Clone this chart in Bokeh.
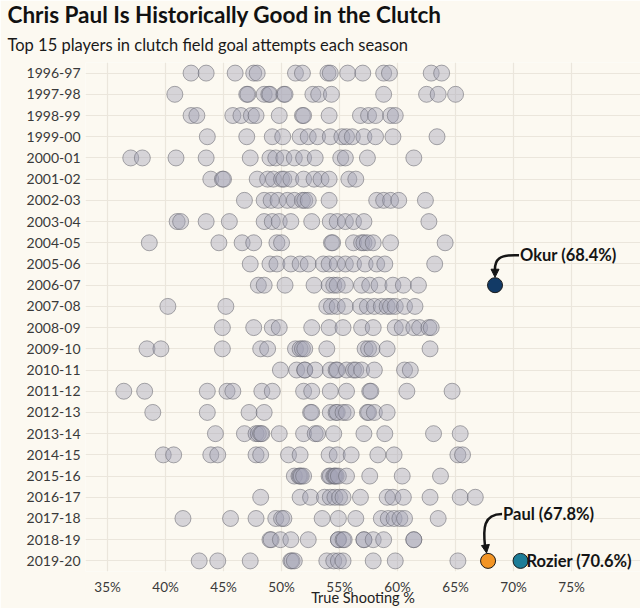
from bokeh.plotting import figure
from bokeh.models import Range1d, Title, Arrow, NormalHead, PrintfTickFormatter, Label
from bokeh.embed import file_html
from bokeh.resources import INLINE

# ---------------- data ----------------
seasons = ["1996-97", "1997-98", "1998-99", "1999-00", "2000-01", "2001-02",
           "2002-03", "2003-04", "2004-05", "2005-06", "2006-07", "2007-08",
           "2008-09", "2009-10", "2010-11", "2011-12", "2012-13", "2013-14",
           "2014-15", "2015-16", "2016-17", "2017-18", "2018-19", "2019-20"]

ts_1996_97 = [42.2, 43.5, 46.0, 47.6, 47.9, 51.2, 51.8, 54.0, 54.2, 55.7, 57.0, 58.8, 59.3, 62.9, 63.8]
ts_1997_98 = [40.8, 47.0, 47.1, 48.5, 48.9, 49.0, 50.2, 50.3, 52.7, 53.2, 54.3, 58.8, 62.5, 63.5, 65.0]
ts_1998_99 = [42.2, 42.7, 45.8, 46.5, 47.4, 47.8, 49.8, 51.8, 51.9, 54.1, 56.8, 57.5, 58.1, 59.4, 59.8]
ts_1999_00 = [43.6, 47.0, 49.2, 50.1, 51.6, 52.3, 53.1, 54.2, 55.2, 55.6, 56.1, 57.1, 58.1, 59.6, 63.4]
ts_2000_01 = [37.0, 38.0, 40.9, 43.5, 47.3, 49.0, 49.5, 50.2, 51.1, 51.9, 52.9, 55.1, 55.5, 57.4, 61.4]
ts_2001_02 = [43.9, 44.9, 45.0, 47.9, 48.8, 49.3, 50.0, 50.2, 50.8, 51.9, 52.8, 53.4, 54.1, 55.8, 56.4]
ts_2002_03 = [46.8, 48.5, 49.1, 49.7, 50.5, 51.1, 51.8, 52.0, 52.3, 54.1, 58.2, 58.8, 59.4, 60.1, 62.4]
ts_2003_04 = [41.0, 41.3, 43.5, 45.5, 48.5, 49.2, 49.8, 50.8, 52.6, 54.2, 54.8, 55.5, 56.2, 57.1, 62.7]
ts_2004_05 = [38.6, 44.6, 46.6, 47.6, 49.6, 50.0, 54.3, 54.4, 56.2, 56.9, 57.1, 57.4, 57.9, 59.4, 64.1]
ts_2005_06 = [47.3, 49.0, 49.6, 50.8, 51.6, 52.3, 53.6, 54.1, 54.8, 55.5, 56.2, 57.2, 58.2, 58.9, 63.2]
ts_2006_07 = [48.0, 48.5, 50.3, 52.8, 54.1, 54.5, 54.8, 55.5, 56.9, 57.6, 58.4, 59.6, 60.5, 61.8]
ts_2007_08 = [40.2, 45.2, 53.9, 54.3, 54.8, 55.5, 56.8, 57.4, 58.0, 58.6, 59.1, 59.4, 59.8, 60.6, 61.5]
ts_2008_09 = [44.9, 47.6, 49.2, 49.8, 52.6, 54.1, 55.3, 56.9, 57.9, 59.8, 60.4, 61.4, 61.9, 62.7, 62.9]
ts_2009_10 = [38.4, 39.6, 44.9, 48.2, 48.8, 51.2, 51.6, 51.8, 52.0, 53.9, 57.2, 57.5, 57.8, 59.1, 62.8]
ts_2010_11 = [49.9, 51.3, 52.0, 52.0, 52.9, 54.2, 54.7, 54.8, 55.6, 56.2, 56.4, 56.9, 58.0, 60.6, 61.1]
ts_2011_12 = [36.4, 38.2, 43.6, 45.3, 45.8, 48.3, 49.2, 51.9, 52.6, 54.2, 55.6, 57.6, 57.7, 60.8, 64.7]
ts_2012_13 = [38.9, 43.6, 47.2, 48.5, 52.5, 52.6, 54.2, 54.7, 54.8, 55.3, 55.6, 57.4, 57.5, 58.0, 59.1]
ts_2013_14 = [44.3, 46.8, 47.8, 48.0, 48.2, 48.3, 49.8, 51.9, 52.9, 53.1, 54.5, 57.1, 58.9, 63.1, 65.4]
ts_2014_15 = [39.8, 40.7, 43.9, 44.5, 47.8, 48.2, 50.6, 51.6, 54.1, 54.8, 56.0, 58.3, 59.7, 65.2, 65.6]
ts_2015_16 = [51.1, 51.5, 51.6, 51.7, 51.9, 54.1, 54.2, 54.5, 54.6, 54.7, 54.9, 55.6, 57.6, 60.4, 63.7]
ts_2016_17 = [48.2, 51.6, 52.5, 53.7, 54.2, 54.6, 55.0, 55.3, 56.8, 59.1, 59.6, 60.5, 62.8, 65.4, 66.7]
ts_2017_18 = [41.5, 45.6, 47.8, 49.5, 50.0, 50.2, 53.5, 54.9, 56.4, 58.6, 59.2, 59.7, 60.2, 60.6, 63.5]
ts_2018_19 = [49.0, 49.1, 49.9, 50.8, 52.3, 54.9, 54.9, 55.3, 55.4, 57.1, 57.1, 57.9, 58.8, 61.4, 61.4]
ts_2019_20 = [42.9, 44.5, 47.3, 50.8, 50.9, 51.1, 53.9, 54.5, 54.9, 55.3, 57.9, 59.8, 65.2]

highlight_names = ["Okur", "Paul", "Rozier"]
highlight_seasons = ["2006-07", "2019-20", "2019-20"]
highlight_values = [68.4, 67.8, 70.6]
highlight_colors = ["#123a66", "#f29424", "#1d7d98"]

x_ticks = [35, 40, 45, 50, 55, 60, 65, 70, 75]

title_text = "Chris Paul Is Historically Good in the Clutch"
subtitle_text = "Top 15 players in clutch field goal attempts each season"
x_label = "True Shooting %"

# ---------------- build ----------------
all_rows = [ts_1996_97, ts_1997_98, ts_1998_99, ts_1999_00, ts_2000_01, ts_2001_02,
            ts_2002_03, ts_2003_04, ts_2004_05, ts_2005_06, ts_2006_07, ts_2007_08,
            ts_2008_09, ts_2009_10, ts_2010_11, ts_2011_12, ts_2012_13, ts_2013_14,
            ts_2014_15, ts_2015_16, ts_2016_17, ts_2017_18, ts_2018_19, ts_2019_20]

n = len(seasons)
ypos = {s: n - 1 - i for i, s in enumerate(seasons)}

xs, ys = [], []
for s, row in zip(seasons, all_rows):
    for v in row:
        xs.append(v)
        ys.append(ypos[s])

BG = "#fcf9f1"
FONT = "Lato"
X0, X1 = 33.1, 80.94      # frame spans to the right canvas edge
GRID_END = 77.9           # horizontal grid lines stop here

p = figure(width=640, height=608, output_backend="svg", toolbar_location=None,
           x_range=Range1d(X0, X1), y_range=Range1d(-0.5, n - 0.5),
           min_border_left=85, min_border_right=0, min_border_top=62, min_border_bottom=36,
           title=None)
p.background_fill_color = BG
p.border_fill_color = BG
p.outline_line_color = None

sub = Title(text=subtitle_text, text_font=FONT, text_font_size="16.5px",
            text_font_style="normal", text_color="#1a1a1a", align="left", offset=-78,
            standoff=16)
ttl = Title(text=title_text, text_font=FONT, text_font_size="22.5px",
            text_font_style="bold", text_color="#111111", align="left", offset=-78,
            standoff=-7)
p.add_layout(sub, "above")
p.add_layout(ttl, "above")

# grid
p.xgrid.ticker = x_ticks
p.ygrid.ticker = list(range(n))
p.ygrid.bounds = (X0, GRID_END)
p.xgrid.grid_line_color = "#ebe6dc"
p.ygrid.grid_line_color = "#ebe6dc"
p.xgrid.grid_line_width = 1.2
p.ygrid.grid_line_width = 1.2

# axes
p.xaxis.ticker = x_ticks
p.xaxis.formatter = PrintfTickFormatter(format="%d%%")
p.yaxis.ticker = list(range(n))
p.yaxis.major_label_overrides = {ypos[s]: s for s in seasons}
for ax in (p.xaxis[0], p.yaxis[0]):
    ax.axis_line_color = None
    ax.major_tick_line_color = None
    ax.minor_tick_line_color = None
    ax.major_tick_out = 0
    ax.minor_tick_out = 0
    ax.major_tick_in = 0
    ax.minor_tick_in = 0
    ax.major_label_text_font = FONT
    ax.major_label_text_color = "#3a3a3a"
p.yaxis.major_label_text_font_size = "14px"
p.xaxis.major_label_text_font_size = "13.5px"
p.yaxis.major_label_standoff = 5
p.xaxis.major_label_standoff = 7
p.xaxis.axis_label = x_label
p.xaxis.axis_label_text_font = FONT
p.xaxis.axis_label_text_font_size = "14.5px"
p.xaxis.axis_label_text_font_style = "normal"
p.xaxis.axis_label_text_color = "#222222"
p.xaxis.axis_label_standoff = -9

# grey dots
p.scatter(xs, ys, size=16, fill_color="#a2a2b6", fill_alpha=0.42,
          line_color="#66666f", line_alpha=0.55, line_width=1)

# highlighted dots
hx = highlight_values
hy = [ypos[s] for s in highlight_seasons]
p.scatter(hx, hy, size=15, fill_color=highlight_colors, line_color="#1a1a1a", line_width=1)

# annotations
PX = 1 / 11.6   # data units per pixel (x)
PY = 1 / 21.25  # data units per pixel (y)

y_ok, y_pa, y_ro = hy
x_ok, x_pa, x_ro = hx
label_offsets = [(25, 30), (15, 47), (6, 0)]
for name, v, xx, yy, (dx, dy) in zip(highlight_names, highlight_values, hx, hy, label_offsets):
    p.add_layout(Label(x=xx + dx * PX, y=yy + dy * PY, text=f"{name} ({v}%)",
                       text_font=FONT, text_font_size="16.5px", text_font_style="bold",
                       text_color="#151515", text_baseline="middle", text_align="left"))

# Okur curved arrow
p.bezier(x0=[x_ok + 24 * PX], y0=[y_ok + 30 * PY],
         x1=[x_ok], y1=[y_ok + 13 * PY],
         cx0=[x_ok + 4 * PX], cy0=[y_ok + 31 * PY],
         cx1=[x_ok - 1 * PX], cy1=[y_ok + 26 * PY],
         line_color="#151515", line_width=2.5)
# Paul curved arrow
p.bezier(x0=[x_pa + 14 * PX], y0=[y_pa + 47 * PY],
         x1=[x_pa - 3 * PX], y1=[y_pa + 14 * PY],
         cx0=[x_pa - 5 * PX], cy0=[y_pa + 47 * PY],
         cx1=[x_pa - 5 * PX], cy1=[y_pa + 32 * PY],
         line_color="#151515", line_width=2.5)

for (ax_, ay_, dx0) in [(x_ok, y_ok, 0), (x_pa, y_pa, -2.5)]:
    p.add_layout(Arrow(end=NormalHead(size=8, fill_color="#151515", line_color="#151515"),
                       x_start=ax_ + dx0 * PX, y_start=ay_ + 15 * PY,
                       x_end=ax_ + (dx0 * 0.6) * PX, y_end=ay_ + 8 * PY,
                       line_color="#151515", line_width=2.5))

open("out.html", "w").write(file_html(p, INLINE))
